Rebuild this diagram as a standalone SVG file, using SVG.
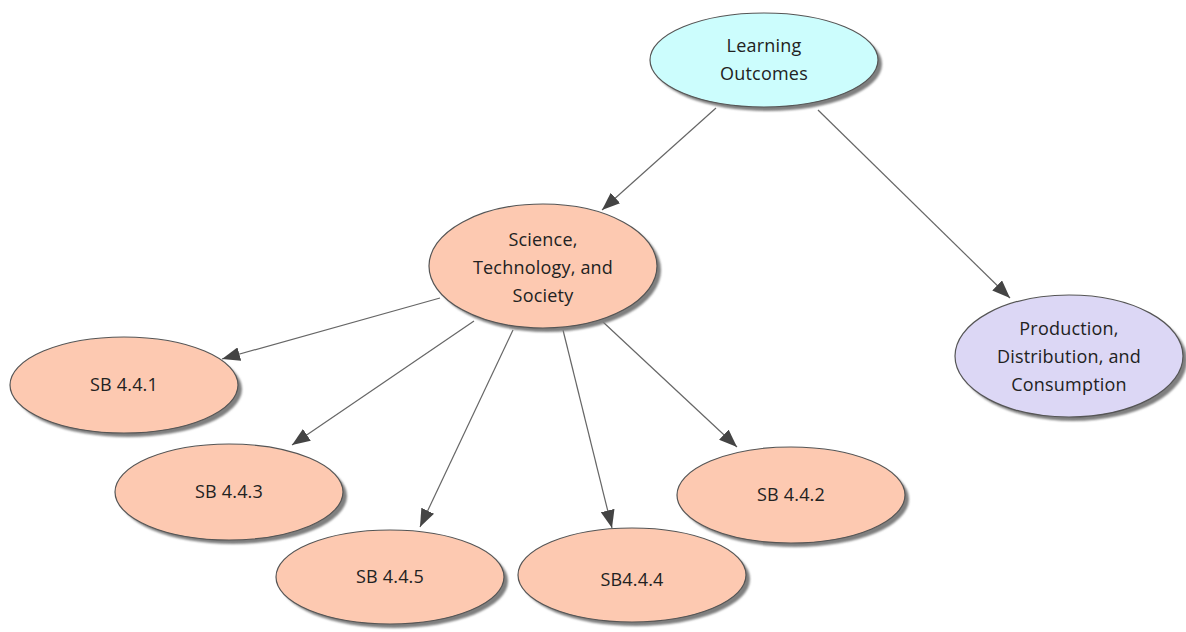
<svg xmlns="http://www.w3.org/2000/svg" width="1186" height="632" viewBox="0 0 1186 632">
  <style>
    .shadow { fill: #7f7f7f; filter: url(#soft); }
    .node { stroke: #555; stroke-width: 1.2; }
    .cyan { fill: #ccfdfd; }
    .salmon { fill: #fdc9b1; }
    .lav { fill: #dcd7f5; }
    .label { font-family: "Open Sans", "Liberation Sans", sans-serif; font-size: 18px; letter-spacing: 0.2px; fill: #222; text-anchor: middle; }
    .edge { stroke: #666; stroke-width: 1.2; fill: none; marker-end: url(#arrow); }
  </style>
  <defs>
    <filter id="soft" x="-10%" y="-10%" width="120%" height="120%">
      <feGaussianBlur stdDeviation="1.2"/>
    </filter>
    <marker id="arrow" viewBox="0 0 18 14" refX="18" refY="7" markerWidth="18" markerHeight="14" markerUnits="userSpaceOnUse" orient="auto">
      <path d="M0,0 L18,7 L0,14 Z" fill="#444"/>
    </marker>
  </defs>
  <rect width="1186" height="632" fill="#fff"/>

  <g id="connectors">
    <line class="edge" x1="716" y1="108" x2="602" y2="210"/>
    <line class="edge" x1="818" y1="110" x2="1010" y2="298"/>
    <line class="edge" x1="440" y1="298" x2="222" y2="359"/>
    <line class="edge" x1="474" y1="321" x2="292" y2="445"/>
    <line class="edge" x1="513" y1="330" x2="420" y2="527"/>
    <line class="edge" x1="563" y1="330" x2="612" y2="528"/>
    <line class="edge" x1="603" y1="322" x2="737" y2="447"/>
  </g>

  <g id="learning-outcomes">
    <ellipse class="shadow" cx="768" cy="64" rx="114" ry="47"/>
    <ellipse class="node cyan" cx="764" cy="60" rx="114" ry="47"/>
    <text class="label" x="764" y="52">Learning</text>
    <text class="label" x="764" y="80">Outcomes</text>
  </g>

  <g id="science-technology-society">
    <ellipse class="shadow" cx="547" cy="270" rx="114" ry="62"/>
    <ellipse class="node salmon" cx="543" cy="266" rx="114" ry="62"/>
    <text class="label" x="543" y="246">Science,</text>
    <text class="label" x="543" y="274">Technology, and</text>
    <text class="label" x="543" y="302">Society</text>
  </g>

  <g id="production-distribution-consumption">
    <ellipse class="shadow" cx="1073" cy="360" rx="114" ry="61"/>
    <ellipse class="node lav" cx="1069" cy="356" rx="114" ry="61"/>
    <text class="label" x="1069" y="335">Production,</text>
    <text class="label" x="1069" y="363">Distribution, and</text>
    <text class="label" x="1069" y="391">Consumption</text>
  </g>

  <g id="sb-4-4-1">
    <ellipse class="shadow" cx="128" cy="389" rx="114" ry="48"/>
    <ellipse class="node salmon" cx="124" cy="385" rx="114" ry="48"/>
    <text class="label" x="124" y="391">SB 4.4.1</text>
  </g>

  <g id="sb-4-4-3">
    <ellipse class="shadow" cx="233" cy="496" rx="114" ry="48"/>
    <ellipse class="node salmon" cx="229" cy="492" rx="114" ry="48"/>
    <text class="label" x="229" y="498">SB 4.4.3</text>
  </g>

  <g id="sb-4-4-5">
    <ellipse class="shadow" cx="394" cy="581" rx="114" ry="47"/>
    <ellipse class="node salmon" cx="390" cy="577" rx="114" ry="47"/>
    <text class="label" x="390" y="583">SB 4.4.5</text>
  </g>

  <g id="sb-4-4-4">
    <ellipse class="shadow" cx="636" cy="579" rx="114" ry="47"/>
    <ellipse class="node salmon" cx="632" cy="575" rx="114" ry="47"/>
    <text class="label" x="632" y="586">SB4.4.4</text>
  </g>

  <g id="sb-4-4-2">
    <ellipse class="shadow" cx="795" cy="499" rx="114" ry="48"/>
    <ellipse class="node salmon" cx="791" cy="495" rx="114" ry="48"/>
    <text class="label" x="791" y="501">SB 4.4.2</text>
  </g>
</svg>
